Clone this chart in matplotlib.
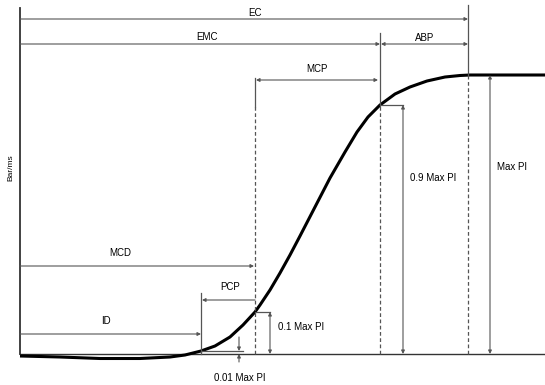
import numpy as np
import matplotlib
matplotlib.use("Agg")
import matplotlib.pyplot as plt

plt.rcParams['font.family'] = ['Liberation Sans', 'DejaVu Sans']

# pressure increase curve (time units, Bar/ms units)
t_curve = [0, 40, 80, 120, 150, 165, 181, 195, 210, 223, 235, 240, 250, 260,
           270, 280, 295, 310, 325, 337, 348, 360, 375, 390, 407, 425, 440,
           450, 525]
p_curve = [-2, -3, -4.5, -4.5, -3, -1, 3, 8, 17, 29, 42, 49, 64, 81,
           99, 118, 147, 176, 202, 222, 237, 249, 260, 267, 273, 277, 278.5,
           279, 279]

# event times
t_id = 181
t_mcd = 235
t_emc = 360
t_ec = 448
# levels
p_max = 279
p_90 = 249
p_10 = 42
p_01 = 3

LC = '#555555'
ARW = dict(arrowstyle='-|>', color=LC, lw=0.8, mutation_scale=5,
           shrinkA=0, shrinkB=0)
ARW2 = dict(arrowstyle='<|-|>', color=LC, lw=0.8, mutation_scale=5,
            shrinkA=0, shrinkB=0)
FS = 7

fig = plt.figure(figsize=(5.45, 3.85), dpi=100)
ax = fig.add_axes([0, 0, 1, 1])
ax.set_xlim(-20, 525)
ax.set_ylim(-31, 354)
ax.axis('off')

# axes
ax.plot([0, 0], [0, 346], color='#333333', lw=1.3)
ax.plot([0, 525], [0, 0], color='#333333', lw=1.0)
ax.text(-9, 186, 'Bar/ms', rotation=90, ha='center', va='center', fontsize=6)

# curve
ax.plot(t_curve, p_curve, color='black', lw=2.2, solid_capstyle='butt',
        solid_joinstyle='round')

def vline(t, top, solid_to):
    ax.plot([t, t], [solid_to, top], color=LC, lw=0.9)
    ax.plot([t, t], [0, solid_to], color=LC, lw=0.9, ls=(0, (3, 2)))

vline(t_mcd, 276, 247)
vline(t_emc, 321, p_90)
vline(t_ec, 349, p_max)
ax.plot([t_id, t_id], [0, 61], color=LC, lw=0.9)

# interval arrows
def harrow(x0, x1, y, label, lx, ly, style=ARW):
    ax.annotate('', xy=(x1, y), xytext=(x0, y), arrowprops=style)
    ax.text(lx, ly, label, ha='center', va='center', fontsize=FS)

harrow(0, t_ec, 335, 'EC', 235, 341)
harrow(0, t_emc, 310, 'EMC', 187, 317)
harrow(t_emc + 1, t_ec, 310, 'ABP', 405, 316, ARW2)
harrow(t_mcd + 1, t_emc - 2, 274, 'MCP', 297, 285, ARW2)
harrow(0, t_mcd - 1, 88, 'MCD', 100, 101)
harrow(t_mcd, t_id + 1, 54, 'PCP', 210, 67)
harrow(0, t_id, 20, 'ID', 86, 33)

# level markers
ax.plot([t_mcd, 250], [p_10, p_10], color=LC, lw=0.9)
ax.annotate('', xy=(250, p_10), xytext=(250, 0), arrowprops=ARW2)
ax.text(258, 27, '0.1 Max PI', ha='left', va='center', fontsize=FS)

ax.plot([t_emc, 383], [p_90, p_90], color=LC, lw=0.9)
ax.annotate('', xy=(383, p_90), xytext=(383, 0), arrowprops=ARW2)
ax.text(390, 176, '0.9 Max PI', ha='left', va='center', fontsize=FS)

ax.annotate('', xy=(470, p_max), xytext=(470, 0), arrowprops=ARW2)
ax.text(477, 187, 'Max PI', ha='left', va='center', fontsize=FS)

ax.plot([t_id, 223], [p_01, p_01], color=LC, lw=0.9)
ax.annotate('', xy=(219, p_01), xytext=(219, 17), arrowprops=ARW)
ax.annotate('', xy=(219, 0), xytext=(219, -8), arrowprops=ARW)
ax.text(220, -24, '0.01 Max PI', ha='center', va='center', fontsize=FS)

fig.savefig('out.png', dpi=100)
